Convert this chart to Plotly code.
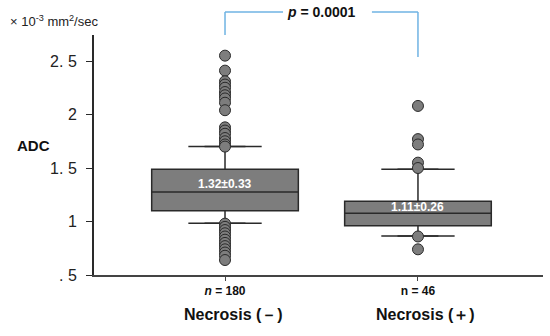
import plotly.graph_objects as go

categories = ["Necrosis (－)", "Necrosis (＋)"]
n_labels = ["<i>n</i> = 180", "n = 46"]
mean_sd = ["1.32±0.33", "1.11±0.26"]
q1 = [1.10, 0.96]
median = [1.276, 1.077]
q3 = [1.488, 1.189]
lowerfence = [0.983, 0.864]
upperfence = [1.70, 1.488]
outliers_neg = [2.55, 2.41, 2.31, 2.28, 2.25, 2.21, 2.18, 2.15, 2.11, 2.04,
                1.88, 1.85, 1.82, 1.78, 1.75, 1.72, 1.70,
                0.98, 0.95, 0.92, 0.89, 0.86, 0.83, 0.80, 0.77, 0.74, 0.71, 0.68, 0.64]
outliers_pos = [2.08, 1.77, 1.72, 1.55, 1.50, 0.86, 0.74]
p_text = "<i>p</i> = 0.0001"
ytick_vals = [0.5, 1, 1.5, 2, 2.5]
ytick_text = [". 5", "1", "1. 5", "2", "2. 5"]

xpos = [0, 1]
XR = [-0.679, 1.648]
DARK = "#2a2a2a"
GRAY = "#7d7d7d"
FONT = "Liberation Sans, Arial, sans-serif"

fig = go.Figure()
fig.add_trace(go.Box(
    x=xpos, q1=q1, median=median, q3=q3,
    lowerfence=lowerfence, upperfence=upperfence,
    width=0.76, fillcolor=GRAY, line=dict(color=DARK, width=1.5),
    boxpoints=False, showlegend=False, hoverinfo="skip"))

cap = 0.106
for i, c in enumerate(xpos):
    for f in (lowerfence[i], upperfence[i]):
        fig.add_trace(go.Scatter(x=[c - cap, c + cap], y=[f, f], mode="lines",
                                 line=dict(color=DARK, width=1.5), showlegend=False,
                                 hoverinfo="skip"))

for c, pts in zip(xpos, [outliers_neg, outliers_pos]):
    fig.add_trace(go.Scatter(x=[c] * len(pts), y=pts, mode="markers",
                             marker=dict(size=11, color=GRAY, line=dict(color=DARK, width=1)),
                             showlegend=False, hoverinfo="skip", cliponaxis=False))

label_y = [1.35, 1.135]
for c, t, yy in zip(xpos, mean_sd, label_y):
    fig.add_annotation(x=c, y=yy, text="<b>" + t + "</b>", showarrow=False,
                       font=dict(color="white", size=12, family=FONT))

for c, t in zip(xpos, categories):
    fig.add_annotation(x=c, y=-0.165, yref="paper", yanchor="middle", xshift=8,
                       text="<b>" + t + "</b>",
                       showarrow=False, font=dict(color="#111", size=16, family=FONT))

def px(v):
    return (v - XR[0]) / (XR[1] - XR[0])

blue = "#6fb3e3"
ytop = 1.096
fig.add_shape(type="line", xref="paper", yref="paper", x0=px(0), x1=px(0), y0=1.0, y1=ytop,
              line=dict(color=blue, width=1.5))
fig.add_shape(type="line", xref="paper", yref="paper", x0=px(0), x1=0.421, y0=ytop, y1=ytop,
              line=dict(color=blue, width=1.5))
fig.add_shape(type="line", xref="paper", yref="paper", x0=0.619, x1=px(1), y0=ytop, y1=ytop,
              line=dict(color=blue, width=1.5))
fig.add_shape(type="line", xref="paper", yref="paper", x0=px(1), x1=px(1), y0=0.908, y1=ytop,
              line=dict(color=blue, width=1.5))
fig.add_annotation(x=0.5 * (px(0) + px(1)), y=ytop, xref="paper", yref="paper",
                   xanchor="center", yanchor="middle",
                   text="<b>" + p_text + "</b>", showarrow=False,
                   font=dict(color="#111", size=14, family=FONT))

fig.add_annotation(x=-0.176, y=0.54, xref="paper", yref="paper", text="<b>ADC</b>",
                   showarrow=False, xanchor="left", yanchor="middle",
                   font=dict(color="#111", size=15, family=FONT))
fig.add_annotation(x=-0.191, y=1.06, xref="paper", yref="paper",
                   text="× 10<sup>-3</sup> mm<sup>2</sup>/sec", showarrow=False,
                   xanchor="left", yanchor="middle",
                   font=dict(color="#222", size=13, family=FONT))

fig.update_layout(
    width=550, height=336, margin=dict(l=94, r=7, t=35, b=61),
    plot_bgcolor="white", paper_bgcolor="white",
    xaxis=dict(range=XR, tickvals=xpos, ticktext=["<b>" + t + "</b>" for t in n_labels],
               showline=True, linecolor="#444", linewidth=2, ticks="outside", ticklen=4,
               tickcolor="#444", showgrid=False, zeroline=False,
               tickfont=dict(size=12, color="#111", family=FONT)),
    yaxis=dict(range=[0.5, 2.743], tickvals=ytick_vals, ticktext=ytick_text,
               showline=True, linecolor=DARK, linewidth=2, ticks="outside", ticklen=6,
               tickcolor=DARK, showgrid=False, zeroline=False, ticklabelstandoff=6,
               tickfont=dict(size=16, color="#222", family=FONT)),
)
fig.write_html("out.html", config={"displayModeBar": False},
               post_script="document.body.style.margin='0';document.body.style.overflow='hidden';")
